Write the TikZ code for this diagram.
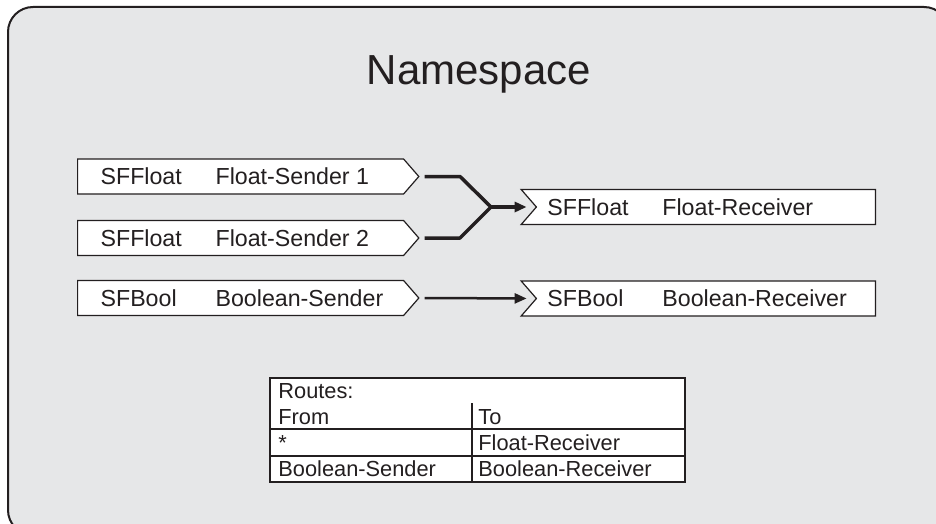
\documentclass[tikz,border=0pt]{standalone}
\usepackage{fontspec}
\setmainfont{Liberation Sans}
\usetikzlibrary{shapes.symbols,arrows.meta}
\definecolor{nsgray}{HTML}{E6E7E8}
\definecolor{ink}{HTML}{231F20}
\begin{document}
\begin{tikzpicture}[
    x=0.5pt, y=-0.5pt,
    text=ink
  ]
\def\px{0.5pt}
\useasboundingbox (0,0) rectangle (936,524);
\clip (0,0) rectangle (936,524);

\tikzstyle{field}=[signal,draw=ink,fill=white,line width=1.2*\px,signal pointer angle=98,
  minimum height=35*\px,inner ysep=0pt,text height=8.3pt,text depth=0pt,
  font=\fontsize{11.6}{13}\selectfont]
\tikzstyle{sender}=[field,signal to=east,anchor=west,inner xsep=23*\px]
\tikzstyle{receiver}=[field,signal from=west,signal to=nowhere,anchor=east,inner xsep=11*\px]
\tikzstyle{route}=[draw=ink,line width=3.5*\px,line join=round]
\tikzstyle{cell}=[anchor=base west,inner sep=0pt,font=\fontsize{10.9}{12}\selectfont]
\tikzstyle{rule}=[draw=ink,line width=2*\px]
% field label: type, then name in a second column
\def\snd#1#2{\makebox[140pt][l]{\makebox[57.5pt][l]{#1}#2}}
\def\rcv#1#2{\makebox[158.5pt][l]{\makebox[57.5pt][l]{#1}#2}}

\node[draw=ink,fill=nsgray,line width=2*\px,rounded corners=25*\px,minimum width=941*\px,minimum height=528*\px,anchor=north west] (ns) at (7,6) {};
\node[anchor=base,font=\fontsize{21}{25}\selectfont] (title) at (479,85) {Namespace};

% senders
\node[sender] (fs1) at (77,176.5) {\snd{SFFloat}{Float-Sender 1}};
\node[sender] (fs2) at (77,238) {\snd{SFFloat}{Float-Sender 2}};
\node[sender] (bs) at (77,298) {\snd{SFBool}{Boolean-Sender}};

% receivers
\node[receiver] (fr) at (876,207) {\rcv{SFFloat}{Float-Receiver}};
\node[receiver] (br) at (876,298.5) {\rcv{SFBool}{Boolean-Receiver}};

% routes
\coordinate (kink) at (460,207);
\coordinate (merge) at (491,207);
\draw[route,shorten <=2.5pt] (fs1.east) -- (fs1.east -| kink) -- (merge);
\draw[route,shorten <=2.5pt] (fs2.east) -- (fs2.east -| kink) -- (merge);
\draw[route,-{Triangle[length=6pt,width=5pt]},shorten >=4.5pt] (merge) -- (fr.west);
\draw[draw=ink,line width=2.5*\px,-{Triangle[length=6pt,width=5pt]},shorten <=2.5pt,shorten >=4.5pt] (bs.east) -- (br.west);

% route table
\node[draw=ink,line width=2*\px,fill=white,minimum width=415*\px,minimum height=104*\px,anchor=north west,inner sep=0pt] (tbl) at (269,377) {};
\coordinate (r1) at (269,429);
\coordinate (r2) at (269,456);
\coordinate (c1) at (472,403);
\draw[rule] (r1) -- (r1 -| tbl.east);
\draw[rule] (r2) -- (r2 -| tbl.east);
\draw[rule] (c1) -- (c1 |- tbl.south);
\node[cell] (hd) at (278,398) {Routes:};
\node[cell] (from) at (278,424) {From};
\node[cell] (to) at (478,424) {To};
\node[cell] (any) at (278,450) {*};
\node[cell] (flt) at (478,450) {Float-Receiver};
\node[cell] (bsnd) at (278,476) {Boolean-Sender};
\node[cell] (brcv) at (478,476) {Boolean-Receiver};
\end{tikzpicture}
\end{document}
